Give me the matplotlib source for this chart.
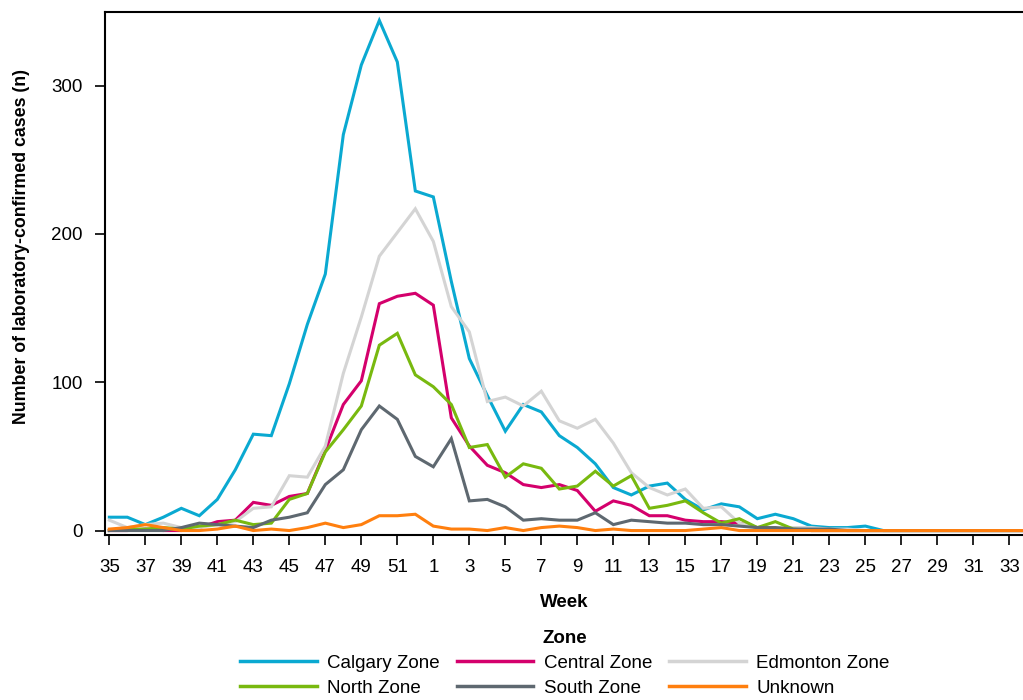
import matplotlib
matplotlib.use("Agg")
import matplotlib.pyplot as plt
import numpy as np

plt.rcParams['font.family'] = ['Liberation Sans', 'DejaVu Sans']

weeks = [35, 36, 37, 38, 39, 40, 41, 42, 43, 44, 45, 46, 47, 48, 49, 50, 51, 52,
         1, 2, 3, 4, 5, 6, 7, 8, 9, 10, 11, 12, 13, 14, 15, 16, 17, 18, 19, 20,
         21, 22, 23, 24, 25, 26, 27, 28, 29, 30, 31, 32, 33, 34]

calgary = [9, 9, 4, 9, 15, 10, 21, 41, 65, 64, 99, 139, 173, 267, 314, 344, 316, 229,
           225, 168, 116, 91, 67, 85, 80, 64, 56, 45, 29, 24, 30, 32, 21, 14, 18, 16, 8, 11,
           8, 3, 2, 2, 3, 0, 0, 0, 0, 0, 0, 0, 0, 0]
central = [0, 0, 1, 0, 0, 2, 6, 7, 19, 17, 23, 25, 54, 85, 101, 153, 158, 160,
           152, 76, 57, 44, 39, 31, 29, 31, 27, 13, 20, 17, 10, 10, 7, 6, 6, 5, 2, 1,
           1, 0, 0, 0, 0, 0, 0, 0, 0, 0, 0, 0, 0, 0]
edmonton = [7, 2, 4, 5, 2, 2, 4, 6, 15, 16, 37, 36, 57, 106, 144, 185, 201, 217,
            195, 151, 134, 87, 90, 84, 94, 74, 69, 75, 59, 39, 29, 24, 28, 15, 16, 5, 2, 2,
            2, 2, 1, 1, 0, 0, 0, 0, 0, 0, 0, 0, 0, 0]
north = [0, 1, 1, 2, 1, 3, 4, 7, 4, 5, 21, 25, 53, 68, 84, 125, 133, 105,
         97, 85, 56, 58, 36, 45, 42, 28, 30, 40, 30, 37, 15, 17, 20, 12, 5, 8, 2, 6,
         1, 0, 0, 0, 0, 0, 0, 0, 0, 0, 0, 0, 0, 0]
south = [0, 0, 0, 0, 2, 5, 4, 3, 2, 7, 9, 12, 31, 41, 68, 84, 75, 50,
         43, 62, 20, 21, 16, 7, 8, 7, 7, 12, 4, 7, 6, 5, 5, 4, 4, 3, 2, 2,
         1, 1, 1, 0, 0, 0, 0, 0, 0, 0, 0, 0, 0, 0]
unknown = [1, 2, 4, 2, 0, 0, 1, 3, 0, 1, 0, 2, 5, 2, 4, 10, 10, 11,
           3, 1, 1, 0, 2, 0, 2, 3, 2, 0, 1, 0, 0, 0, 0, 1, 2, 0, 0, 0,
           0, 0, 0, 0, 0, 0, 0, 0, 0, 0, 0, 0, 0, 0]

series_names = ["Calgary Zone", "Central Zone", "Edmonton Zone", "North Zone", "South Zone", "Unknown"]
series_values = [calgary, central, edmonton, north, south, unknown]
series_colors = ["#0aa9d1", "#d4006c", "#d4d4d4", "#78b90f", "#5e6870", "#ff7f0e"]

fig = plt.figure(figsize=(10.23, 7.0), dpi=100)
ax = fig.add_axes([105 / 1023, 1 - 535 / 700, 1 - 105 / 1023, (535 - 12.3) / 700])

x = np.arange(len(weeks))
handles = []
for name, vals, col in zip(series_names, series_values, series_colors):
    h, = ax.plot(x, vals, color=col, lw=2.2, label=name, solid_joinstyle='miter')
    handles.append(h)

ax.set_xlim(-0.24, 50.76)
ax.set_ylim(-3, 349.5)
ax.set_xticks(x[::2])
ax.set_xticklabels([str(w) for w in weeks[::2]])
ax.set_yticks([0, 100, 200, 300])
ax.tick_params(axis='both', labelsize=13.5, length=7, width=1.2, color='black')
ax.tick_params(axis='x', pad=10)
ax.tick_params(axis='y', pad=9)
for s in ['left', 'bottom', 'top']:
    ax.spines[s].set_linewidth(1.5)
ax.spines['right'].set_visible(False)

ax.set_xlabel("Week", fontsize=13.5, fontweight='bold', labelpad=13)
fig.text(22 / 1023, 1 - 247 / 700, "Number of laboratory-confirmed cases (n)", rotation=90,
         ha='center', va='center', fontsize=12.8, fontweight='bold')

# legend filled row-wise: reorder for matplotlib's column-wise filling
order = [0, 3, 1, 4, 2, 5]
leg = fig.legend([handles[i] for i in order], [series_names[i] for i in order],
                 loc='upper center', bbox_to_anchor=(0.552, 1 - 630 / 700), ncol=3,
                 frameon=False, fontsize=13.5, title="Zone", title_fontsize=13.5,
                 handlelength=4.1, handletextpad=0.55, columnspacing=0.9,
                 labelspacing=0.42, borderpad=0, borderaxespad=0)
leg.get_title().set_fontweight('bold')
for line in leg.get_lines():
    line.set_linewidth(2.5)

fig.savefig("out.png", dpi=100)
